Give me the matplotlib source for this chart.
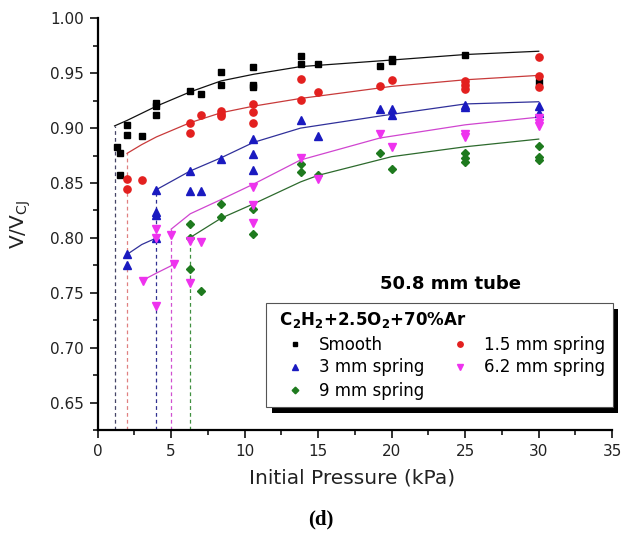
import numpy as np
import matplotlib
matplotlib.use("Agg")
import matplotlib.pyplot as plt
from matplotlib.patches import Rectangle
from matplotlib.transforms import IdentityTransform
from matplotlib.ticker import MultipleLocator

plt.rcParams['font.family'] = ['DejaVu Sans']
plt.rcParams['mathtext.default'] = 'regular'

# measured points (initial pressure kPa, V/V_CJ)
smooth_p = [1.3, 1.5, 1.5, 2.0, 2.0, 3.0, 4.0, 4.0, 4.0, 6.3, 7.0, 8.4, 8.4, 10.6, 10.6, 10.6,
            13.8, 13.8, 15.0, 19.2, 20.0, 20.0, 25.0, 30.0]
smooth_v = [0.883, 0.877, 0.857, 0.903, 0.894, 0.893, 0.923, 0.920, 0.912, 0.934, 0.931, 0.951, 0.939,
            0.956, 0.939, 0.937, 0.966, 0.958, 0.958, 0.957, 0.963, 0.961, 0.967, 0.942]

red_p = [2.0, 2.0, 3.0, 6.3, 6.3, 7.0, 8.4, 8.4, 8.4, 10.6, 10.6, 10.6, 13.8, 13.8, 15.0,
         19.2, 20.0, 25.0, 25.0, 25.0, 30.0, 30.0, 30.0]
red_v = [0.854, 0.845, 0.853, 0.905, 0.896, 0.912, 0.916, 0.913, 0.911, 0.922, 0.915, 0.905,
         0.945, 0.926, 0.933, 0.938, 0.944, 0.943, 0.939, 0.936, 0.965, 0.947, 0.937]

blue_p = [2.0, 2.0, 4.0, 4.0, 4.0, 4.0, 6.3, 6.3, 7.0, 8.4, 10.6, 10.6, 10.6, 13.8, 15.0,
          19.2, 20.0, 20.0, 25.0, 25.0, 30.0, 30.0]
blue_v = [0.785, 0.775, 0.844, 0.824, 0.821, 0.800, 0.861, 0.843, 0.843, 0.872, 0.890, 0.876, 0.862,
          0.907, 0.893, 0.917, 0.917, 0.912, 0.921, 0.919, 0.920, 0.914]

mag_p = [3.1, 4.0, 4.0, 4.0, 5.0, 5.2, 6.3, 6.3, 7.0, 10.6, 10.6, 10.6, 13.8, 15.0,
         19.2, 20.0, 25.0, 25.0, 30.0, 30.0, 30.0]
mag_v = [0.761, 0.808, 0.800, 0.738, 0.803, 0.776, 0.797, 0.759, 0.796, 0.846, 0.830, 0.814,
         0.873, 0.854, 0.895, 0.883, 0.895, 0.892, 0.909, 0.905, 0.902]

green_p = [6.3, 6.3, 6.3, 7.0, 8.4, 8.4, 10.6, 10.6, 13.8, 13.8, 15.0, 19.2, 20.0,
           25.0, 25.0, 25.0, 30.0, 30.0, 30.0]
green_v = [0.813, 0.800, 0.772, 0.752, 0.831, 0.819, 0.826, 0.804, 0.867, 0.860, 0.857, 0.877, 0.863,
           0.877, 0.873, 0.869, 0.884, 0.874, 0.871]

# fitted curves
smooth_fit_p = [1.15, 2.0, 4.0, 6.3, 8.4, 10.6, 13.8, 20.0, 25.0, 30.0]
smooth_fit_v = [0.902, 0.907, 0.920, 0.933, 0.943, 0.949, 0.956, 0.962, 0.967, 0.970]
red_fit_p = [2.0, 3.0, 4.0, 6.3, 8.4, 10.6, 13.8, 20.0, 25.0, 30.0]
red_fit_v = [0.877, 0.885, 0.892, 0.905, 0.914, 0.920, 0.927, 0.938, 0.944, 0.948]
blue_fit_p = [4.0, 6.3, 8.4, 10.6, 13.8, 19.2, 25.0, 30.0]
blue_fit_v = [0.844, 0.861, 0.873, 0.887, 0.900, 0.911, 0.922, 0.924]
blue_low_p = [2.0, 3.0, 4.0]
blue_low_v = [0.785, 0.794, 0.800]
mag_fit_p = [5.0, 6.3, 8.4, 10.6, 13.8, 19.2, 25.0, 30.0]
mag_fit_v = [0.808, 0.822, 0.835, 0.849, 0.871, 0.891, 0.903, 0.910]
mag_low_p = [3.0, 4.0, 5.2]
mag_low_v = [0.761, 0.768, 0.776]
green_fit_p = [6.25, 8.4, 10.6, 13.8, 15.0, 20.0, 25.0, 30.0]
green_fit_v = [0.800, 0.818, 0.831, 0.851, 0.857, 0.874, 0.883, 0.890]

# critical pressures (dashed lines up to the start of each fit)
crit_p = [1.15, 2.0, 4.0, 5.0, 6.25]
crit_v = [0.902, 0.877, 0.844, 0.808, 0.800]

labels = ['Smooth', '1.5 mm spring', '3 mm spring', '6.2 mm spring', '9 mm spring']
colors = ['#000000', '#e3201f', '#1a1ac0', '#ee33ee', '#1e7a1e']
line_colors = ['#111111', '#c83a3a', '#30309a', '#d045d0', '#2d6a2d']
dash_colors = ['#444466', '#e08080', '#303090', '#d050d0', '#409040']
markers = ['s', 'o', '^', 'v', 'D']
msizes = [4.6, 5.2, 5.6, 5.6, 4.5]

fig = plt.figure(figsize=(6.26, 5.33), dpi=100)
ax = fig.add_axes([0.156, 0.193, 0.822, 0.7727])

pts = [(smooth_p, smooth_v), (red_p, red_v), (blue_p, blue_v), (mag_p, mag_v), (green_p, green_v)]
fits = [[(smooth_fit_p, smooth_fit_v)], [(red_fit_p, red_fit_v)],
        [(blue_fit_p, blue_fit_v), (blue_low_p, blue_low_v)],
        [(mag_fit_p, mag_fit_v), (mag_low_p, mag_low_v)],
        [(green_fit_p, green_fit_v)]]

for i in range(5):
    ax.vlines(crit_p[i], 0.625, crit_v[i], colors=dash_colors[i], linestyles=(0, (3.0, 2.5)), lw=0.9, zorder=1)
    for fp, fv in fits[i]:
        ax.plot(fp, fv, '-', color=line_colors[i], lw=0.9, zorder=2)

handles = {}
for i in [0, 2, 4, 1, 3]:
    h, = ax.plot(pts[i][0], pts[i][1], linestyle='none', marker=markers[i], ms=msizes[i],
                 color=colors[i], mec=colors[i], zorder=3, label=labels[i])
    handles[i] = h

ax.set_xlim(0, 35)
ax.set_ylim(0.625, 1.0)
ax.xaxis.set_major_locator(MultipleLocator(5))
ax.xaxis.set_minor_locator(MultipleLocator(2.5))
ax.yaxis.set_minor_locator(MultipleLocator(0.025))
ax.set_yticks(np.arange(0.65, 1.001, 0.05))
ax.set_yticklabels(['%.2f' % v for v in np.arange(0.65, 1.001, 0.05)])
ax.tick_params(which='major', direction='out', length=6, width=1.3, labelsize=11, pad=4, colors='#222222')
ax.tick_params(which='minor', direction='out', length=3.5, width=1.1)
for s in ['top', 'right']:
    ax.spines[s].set_visible(False)
for s in ['left', 'bottom']:
    ax.spines[s].set_linewidth(1.6)

ax.set_xlabel('Initial Pressure (kPa)', fontsize=14.5, color='#222222')
ax.set_ylabel('V/V$_{CJ}$', fontsize=14.5, color='#222222')
ax.xaxis.set_label_coords(0.494, -0.092)
ax.yaxis.set_label_coords(-0.126, 0.5)

ax.text(24.0, 0.758, '50.8 mm tube', ha='center', va='center', fontsize=13, fontweight='bold')

order = [0, 2, 4, 1, 3]
leg = ax.legend([handles[i] for i in order], [labels[i] for i in order], ncol=2,
                title=' C$_2$H$_2$+2.5O$_2$+70%Ar', title_fontproperties={'weight': 'bold', 'size': 12},
                alignment='left', loc='upper left', bbox_to_anchor=(266 / 626, 1 - 303 / 533),
                bbox_transform=fig.transFigure, fontsize=12, frameon=True, fancybox=False,
                framealpha=1, edgecolor='#555555', borderpad=0.45, handlelength=2.6,
                handletextpad=0.15, columnspacing=0.8, labelspacing=0.3, markerscale=0.75,
                borderaxespad=0)
leg.get_frame().set_linewidth(0.8)
leg.set_zorder(5)

# black drop shadow behind the legend box
fig.canvas.draw()
bb = leg.get_window_extent()
ax.add_patch(Rectangle((bb.x0 + 5.5, bb.y0 - 5.5), bb.width, bb.height, transform=IdentityTransform(),
                       facecolor='black', edgecolor='none', zorder=4.9, clip_on=False))

fig.text(321 / 626, 1 - 519 / 533, '(d)', family='Liberation Serif', fontweight='bold', fontsize=15,
         ha='center', va='center')

fig.savefig('out.png', dpi=100)
